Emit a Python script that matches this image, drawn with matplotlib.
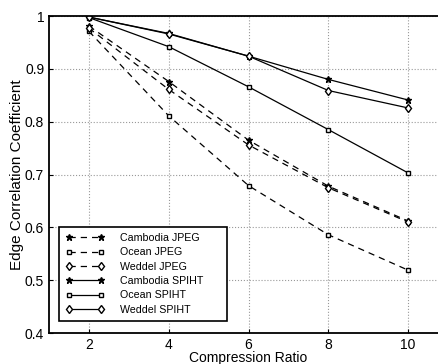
import matplotlib.pyplot as plt

plt.rcParams['font.family'] = ['Liberation Sans', 'DejaVu Sans']

ratio = [2, 4, 6, 8, 10]
cambodia_jpeg = [0.981, 0.876, 0.765, 0.678, 0.612]
ocean_jpeg = [0.971, 0.811, 0.679, 0.586, 0.519]
weddel_jpeg = [0.977, 0.861, 0.756, 0.675, 0.610]
cambodia_spiht = [0.998, 0.967, 0.924, 0.880, 0.841]
ocean_spiht = [0.997, 0.942, 0.866, 0.785, 0.703]
weddel_spiht = [0.998, 0.966, 0.924, 0.859, 0.826]

fig = plt.figure(figsize=(4.38, 3.64), dpi=100)
ax = fig.add_axes([0.112, 0.085, 0.911, 0.871])

dash = (5, 4)
ax.plot(ratio, cambodia_jpeg, 'k--', dashes=dash, marker='*', ms=4.5, lw=0.9, label='Cambodia JPEG')
ax.plot(ratio, ocean_jpeg, 'k--', dashes=dash, marker='s', ms=3.5, mfc='white', lw=0.9, label='Ocean JPEG')
ax.plot(ratio, weddel_jpeg, 'k--', dashes=dash, marker='d', ms=4.5, mfc='white', lw=0.9, label='Weddel JPEG')
ax.plot(ratio, cambodia_spiht, 'k-', marker='*', ms=4.5, lw=0.9, label='Cambodia SPIHT')
ax.plot(ratio, ocean_spiht, 'k-', marker='s', ms=3.5, mfc='white', lw=0.9, label='Ocean SPIHT')
ax.plot(ratio, weddel_spiht, 'k-', marker='d', ms=4.5, mfc='white', lw=0.9, label='Weddel SPIHT')

ax.set_xlim(1, 11)
ax.set_ylim(0.4, 1.0)
ax.set_xticks(ratio)
ax.set_yticks([0.4, 0.5, 0.6, 0.7, 0.8, 0.9, 1.0])
ax.set_yticklabels(['0.4', '0.5', '0.6', '0.7', '0.8', '0.9', '1'])
ax.grid(True, ls=':', color='#999999', lw=0.8)
ax.tick_params(direction='in', labelsize=10, length=3)
for s in ax.spines.values():
    s.set_linewidth(1.3)

ax.set_xlabel('Compression Ratio', fontsize=10, labelpad=-1)
ax.set_ylabel('Edge Correlation Coefficient', fontsize=11, labelpad=1)

leg = ax.legend(loc='lower left', bbox_to_anchor=(0.025, 0.038, 0.421, 0.32), mode='expand',
                fontsize=7.7, numpoints=2, fancybox=False, framealpha=1, edgecolor='black',
                handlelength=3.6, handletextpad=1.5, labelspacing=0.4, borderpad=0.6,
                borderaxespad=0)
leg.get_frame().set_linewidth(1.2)

fig.savefig('out.png', dpi=100)
